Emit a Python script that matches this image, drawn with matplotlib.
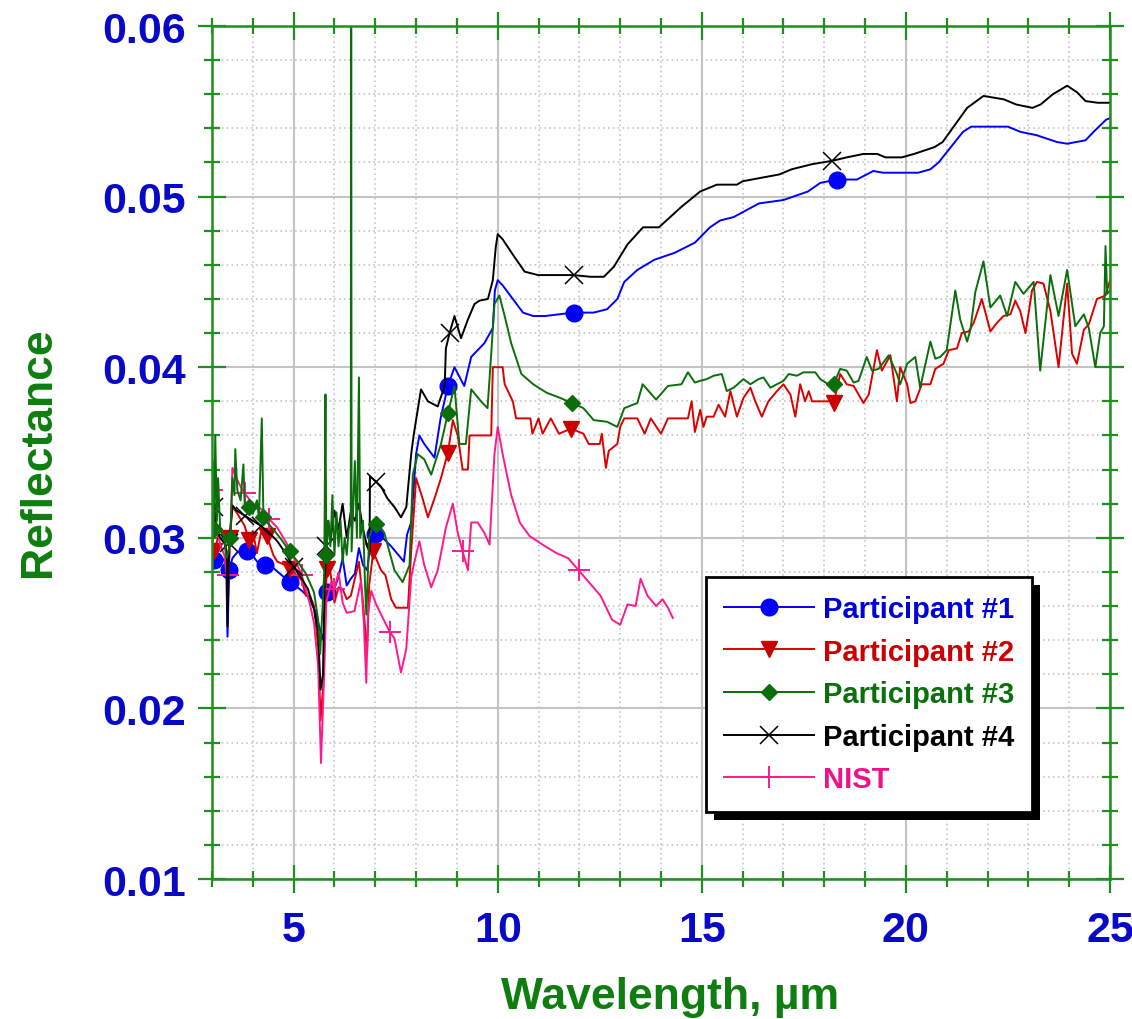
import numpy as np
import matplotlib
matplotlib.use("Agg")
import matplotlib.pyplot as plt
from matplotlib.ticker import MultipleLocator, FormatStrFormatter
from matplotlib.lines import Line2D
from matplotlib.patches import Rectangle
from matplotlib.transforms import IdentityTransform

plt.rcParams['font.family'] = ['Liberation Sans', 'DejaVu Sans']
plt.rcParams['font.weight'] = 'bold'

# Participant #1
p1_wl = [3.0, 3.05, 3.1, 3.2, 3.3, 3.35, 3.38, 3.42, 3.5, 3.6,
         3.73, 3.85, 3.98, 4.14, 4.3, 4.47, 4.71, 4.92, 5.2, 5.37,
         5.53, 5.65, 5.73, 5.77, 5.82, 5.98, 6.1, 6.2, 6.3, 6.4,
         6.5, 6.6, 6.7, 6.8, 6.9, 7.0, 7.14, 7.39, 7.6, 7.7,
         7.78, 7.88, 8.0, 8.08, 8.2, 8.45, 8.6, 8.78, 8.94, 9.18,
         9.35, 9.67, 9.88, 9.93, 10.0, 10.12, 10.37, 10.62, 10.87, 11.16,
         11.5, 11.86, 12.35, 12.68, 12.93, 13.1, 13.42, 13.84, 14.33, 14.83,
         15.2, 15.45, 15.78, 16.4, 17.0, 17.6, 17.9, 18.3, 18.8, 19.2,
         19.45, 20.3, 20.6, 20.8, 21.1, 21.4, 21.6, 22.5, 22.8, 23.2,
         23.7, 23.95, 24.4, 24.6, 24.9, 25.0]
p1_r = [0.0290, 0.0287, 0.0288, 0.0289, 0.0287, 0.0282, 0.0242, 0.0281, 0.0288, 0.0291,
        0.0293, 0.0292, 0.0290, 0.0285, 0.0284, 0.0283, 0.0278, 0.0274, 0.0269, 0.0265,
        0.0257, 0.0246, 0.0240, 0.0262, 0.0268, 0.0269, 0.0277, 0.0288, 0.0272, 0.0276,
        0.0279, 0.0294, 0.0284, 0.0281, 0.0299, 0.0302, 0.0301, 0.0295, 0.0289, 0.0286,
        0.0302, 0.0309, 0.0349, 0.0360, 0.0355, 0.0347, 0.0370, 0.0389, 0.0400, 0.0389,
        0.0406, 0.0414, 0.0423, 0.0445, 0.0451, 0.0448, 0.0440, 0.0432, 0.0430, 0.0430,
        0.0431, 0.0432, 0.0432, 0.0434, 0.0440, 0.0450, 0.0457, 0.0463, 0.0467, 0.0473,
        0.0482, 0.0486, 0.0488, 0.0496, 0.0498, 0.0503, 0.0508, 0.0510, 0.0510, 0.0515,
        0.0514, 0.0514, 0.0516, 0.0520, 0.0529, 0.0538, 0.0541, 0.0541, 0.0538, 0.0536,
        0.0532, 0.0531, 0.0533, 0.0538, 0.0545, 0.0546]

# Participant #2
p2_wl = [3.0, 3.05, 3.1, 3.2, 3.3, 3.36, 3.38, 3.44, 3.5, 3.6,
         3.7, 3.8, 3.9, 4.0, 4.1, 4.2, 4.35, 4.5, 4.6, 4.8,
         4.9, 5.0, 5.2, 5.3, 5.4, 5.5, 5.6, 5.66, 5.72, 5.77,
         5.82, 5.9, 6.0, 6.1, 6.2, 6.3, 6.4, 6.5, 6.6, 6.7,
         6.8, 6.85, 6.95, 7.14, 7.25, 7.39, 7.51, 7.8, 7.88, 8.0,
         8.16, 8.29, 8.45, 8.61, 8.78, 8.9, 9.02, 9.14, 9.27, 9.31,
         9.84, 9.88, 10.0, 10.12, 10.17, 10.37, 10.45, 10.8, 10.85, 11.0,
         11.1, 11.3, 11.5, 11.8, 12.1, 12.23, 12.5, 12.55, 12.65, 12.72,
         12.93, 13.0, 13.1, 13.42, 13.6, 13.75, 14.0, 14.17, 14.66, 14.75,
         14.83, 14.96, 15.04, 15.12, 15.29, 15.41, 15.57, 15.7, 15.86, 16.02,
         16.19, 16.31, 16.47, 16.63, 16.84, 17.0, 17.17, 17.29, 17.41, 17.53,
         17.62, 17.7, 18.15, 18.23, 18.39, 18.55, 18.72, 18.96, 19.09, 19.29,
         19.41, 19.62, 19.78, 19.86, 20.03, 20.11, 20.23, 20.39, 20.6, 20.72,
         20.92, 21.05, 21.25, 21.37, 21.54, 21.66, 21.86, 22.07, 22.23, 22.39,
         22.56, 22.68, 22.8, 22.93, 23.09, 23.21, 23.37, 23.54, 23.74, 23.95,
         24.07, 24.19, 24.36, 24.48, 24.68, 24.89, 25.0]
p2_r = [0.0300, 0.0292, 0.0296, 0.0305, 0.0300, 0.0288, 0.0262, 0.0300, 0.0318, 0.0315,
        0.0311, 0.0307, 0.0299, 0.0304, 0.0291, 0.0303, 0.0301, 0.0290, 0.0286, 0.0284,
        0.0282, 0.0280, 0.0275, 0.0266, 0.0266, 0.0260, 0.0236, 0.0193, 0.0212, 0.0262,
        0.0282, 0.0280, 0.0262, 0.0271, 0.0270, 0.0264, 0.0266, 0.0276, 0.0286, 0.0262,
        0.0232, 0.0272, 0.0292, 0.0281, 0.0278, 0.0264, 0.0259, 0.0259, 0.0292, 0.0335,
        0.0323, 0.0312, 0.0323, 0.0335, 0.0350, 0.0369, 0.0360, 0.0340, 0.0340, 0.0360,
        0.0360, 0.0400, 0.0400, 0.0400, 0.0390, 0.0380, 0.0370, 0.0370, 0.0361, 0.0370,
        0.0361, 0.0370, 0.0361, 0.0364, 0.0361, 0.0355, 0.0355, 0.0361, 0.0341, 0.0351,
        0.0355, 0.0365, 0.0370, 0.0370, 0.0361, 0.0370, 0.0361, 0.0370, 0.0370, 0.0380,
        0.0362, 0.0375, 0.0365, 0.0371, 0.0371, 0.0378, 0.0371, 0.0386, 0.0371, 0.0382,
        0.0388, 0.0380, 0.0371, 0.0380, 0.0386, 0.0390, 0.0384, 0.0371, 0.0390, 0.0380,
        0.0386, 0.0380, 0.0380, 0.0379, 0.0396, 0.0390, 0.0389, 0.0379, 0.0384, 0.0410,
        0.0398, 0.0407, 0.0380, 0.0400, 0.0390, 0.0379, 0.0380, 0.0390, 0.0390, 0.0399,
        0.0402, 0.0410, 0.0411, 0.0420, 0.0421, 0.0426, 0.0440, 0.0421, 0.0426, 0.0430,
        0.0431, 0.0439, 0.0433, 0.0420, 0.0445, 0.0450, 0.0449, 0.0433, 0.0400, 0.0449,
        0.0408, 0.0402, 0.0422, 0.0425, 0.0440, 0.0442, 0.0451]

# Participant #3
p3_wl = [3.0, 3.02, 3.05, 3.08, 3.12, 3.15, 3.2, 3.3, 3.35, 3.4,
         3.45, 3.5, 3.55, 3.57, 3.62, 3.7, 3.77, 3.8, 3.9, 4.0,
         4.1, 4.15, 4.22, 4.26, 4.35, 4.5, 4.7, 4.9, 5.1, 5.3,
         5.5, 5.6, 5.65, 5.7, 5.75, 5.78, 5.8, 5.85, 5.9, 5.95,
         6.0, 6.05, 6.1, 6.15, 6.2, 6.25, 6.3, 6.35, 6.4, 6.41,
         6.42, 6.5, 6.55, 6.6, 6.63, 6.7, 6.75, 6.78, 6.85, 6.95,
         7.02, 7.22, 7.47, 7.67, 7.84, 7.92, 8.04, 8.2, 8.37, 8.61,
         8.78, 8.94, 9.06, 9.22, 9.35, 9.59, 9.75, 9.83, 9.92, 10.04,
         10.17, 10.33, 10.58, 10.87, 11.2, 11.53, 11.82, 12.1, 12.35, 12.68,
         12.93, 13.1, 13.42, 13.55, 13.88, 14.17, 14.5, 14.66, 14.83, 14.96,
         15.12, 15.29, 15.49, 15.61, 15.78, 16.02, 16.19, 16.39, 16.51, 16.68,
         16.84, 17.0, 17.13, 17.33, 17.49, 17.78, 17.9, 18.1, 18.23, 18.39,
         18.55, 18.72, 18.84, 19.04, 19.17, 19.33, 19.58, 19.78, 19.86, 20.03,
         20.23, 20.35, 20.6, 20.72, 20.84, 21.0, 21.21, 21.33, 21.5, 21.58,
         21.7, 21.9, 22.07, 22.31, 22.48, 22.68, 22.88, 23.13, 23.29, 23.54,
         23.74, 23.95, 24.15, 24.36, 24.48, 24.64, 24.76, 24.85, 24.89, 24.93,
         25.0]
p3_r = [0.0280, 0.0345, 0.0305, 0.0360, 0.0310, 0.0335, 0.0305, 0.0300, 0.0288, 0.0291,
        0.0300, 0.0335, 0.0325, 0.0352, 0.0328, 0.0322, 0.0343, 0.0320, 0.0318, 0.0314,
        0.0322, 0.0312, 0.0370, 0.0312, 0.0309, 0.0305, 0.0299, 0.0292, 0.0286, 0.0279,
        0.0268, 0.0252, 0.0232, 0.0255, 0.0280, 0.0384, 0.0290, 0.0310, 0.0295, 0.0325,
        0.0290, 0.0315, 0.0295, 0.0310, 0.0285, 0.0300, 0.0290, 0.0305, 0.0310, 0.0650,
        0.0292, 0.0345, 0.0300, 0.0394, 0.0300, 0.0310, 0.0272, 0.0255, 0.0300, 0.0308,
        0.0308, 0.0303, 0.0281, 0.0274, 0.0284, 0.0337, 0.0349, 0.0346, 0.0337, 0.0355,
        0.0373, 0.0389, 0.0355, 0.0355, 0.0387, 0.0380, 0.0376, 0.0404, 0.0437, 0.0442,
        0.0430, 0.0414, 0.0396, 0.0390, 0.0385, 0.0382, 0.0379, 0.0376, 0.0369, 0.0368,
        0.0365, 0.0376, 0.0379, 0.0390, 0.0381, 0.0389, 0.0390, 0.0397, 0.0391, 0.0392,
        0.0393, 0.0395, 0.0396, 0.0386, 0.0388, 0.0393, 0.0390, 0.0393, 0.0394, 0.0388,
        0.0390, 0.0392, 0.0396, 0.0395, 0.0397, 0.0397, 0.0393, 0.0390, 0.0390, 0.0399,
        0.0398, 0.0391, 0.0392, 0.0406, 0.0398, 0.0399, 0.0407, 0.0396, 0.0390, 0.0402,
        0.0406, 0.0388, 0.0415, 0.0405, 0.0406, 0.0410, 0.0445, 0.0428, 0.0415, 0.0422,
        0.0444, 0.0462, 0.0435, 0.0442, 0.0430, 0.0450, 0.0443, 0.0450, 0.0398, 0.0454,
        0.0430, 0.0457, 0.0424, 0.0431, 0.0423, 0.0400, 0.0420, 0.0424, 0.0471, 0.0443,
        0.0445]

# Participant #4
p4_wl = [3.0, 3.05, 3.1, 3.2, 3.3, 3.36, 3.38, 3.42, 3.5, 3.6,
         3.8, 4.0, 4.2, 4.4, 4.6, 4.8, 5.0, 5.2, 5.35, 5.5,
         5.6, 5.66, 5.72, 5.76, 5.8, 5.85, 5.9, 6.0, 6.1, 6.2,
         6.3, 6.4, 6.5, 6.6, 6.7, 6.8, 6.86, 6.87, 7.02, 7.14,
         7.3, 7.47, 7.63, 7.76, 7.88, 7.94, 8.12, 8.29, 8.53, 8.7,
         8.73, 8.82, 8.94, 9.1, 9.27, 9.43, 9.55, 9.76, 9.88, 9.95,
         10.0, 10.12, 10.37, 10.66, 10.99, 11.6, 11.86, 12.27, 12.6, 12.85,
         13.0, 13.18, 13.56, 13.95, 14.5, 14.96, 15.37, 15.86, 16.0, 16.9,
         17.2, 17.7, 18.2, 18.55, 18.96, 19.3, 19.5, 19.9, 20.2, 20.7,
         20.9, 21.2, 21.5, 21.9, 22.15, 22.4, 22.7, 23.1, 23.3, 23.6,
         23.95, 24.2, 24.4, 24.7, 25.0]
p4_r = [0.0310, 0.0318, 0.0305, 0.0300, 0.0297, 0.0292, 0.0248, 0.0297, 0.0319, 0.0316,
        0.0313, 0.0310, 0.0307, 0.0303, 0.0298, 0.0291, 0.0283, 0.0276, 0.0270, 0.0258,
        0.0245, 0.0211, 0.0220, 0.0275, 0.0295, 0.0310, 0.0298, 0.0316, 0.0305, 0.0320,
        0.0300, 0.0315, 0.0310, 0.0320, 0.0305, 0.0295, 0.0292, 0.0336, 0.0333, 0.0330,
        0.0323, 0.0318, 0.0312, 0.0318, 0.0349, 0.0360, 0.0387, 0.0380, 0.0377, 0.0389,
        0.0411, 0.0420, 0.0430, 0.0417, 0.0428, 0.0437, 0.0439, 0.0440, 0.0451, 0.0470,
        0.0478, 0.0475, 0.0466, 0.0456, 0.0454, 0.0454, 0.0454, 0.0453, 0.0453, 0.0459,
        0.0465, 0.0472, 0.0482, 0.0482, 0.0494, 0.0503, 0.0507, 0.0507, 0.0509, 0.0513,
        0.0516, 0.0519, 0.0521, 0.0523, 0.0525, 0.0525, 0.0523, 0.0523, 0.0525, 0.0529,
        0.0532, 0.0542, 0.0552, 0.0559, 0.0558, 0.0557, 0.0554, 0.0552, 0.0554, 0.0560,
        0.0565, 0.0561, 0.0556, 0.0555, 0.0555]

# NIST reference
nist_wl = [3.0, 3.05, 3.1, 3.2, 3.3, 3.35, 3.4, 3.45, 3.5, 3.6,
           3.7, 3.8, 3.9, 4.0, 4.2, 4.4, 4.6, 4.8, 5.0, 5.2,
           5.4, 5.5, 5.6, 5.67, 5.75, 5.8, 5.92, 6.0, 6.1, 6.2,
           6.3, 6.49, 6.65, 6.72, 6.78, 6.82, 6.9, 7.02, 7.35, 7.47,
           7.63, 7.76, 7.88, 7.96, 8.08, 8.2, 8.37, 8.53, 8.73, 8.9,
           9.02, 9.14, 9.27, 9.35, 9.51, 9.67, 9.8, 9.92, 10.0, 10.12,
           10.33, 10.54, 10.78, 11.1, 11.44, 11.73, 11.98, 12.27, 12.52, 12.8,
           13.0, 13.18, 13.38, 13.5, 13.67, 13.88, 14.04, 14.17, 14.29]
nist_r = [0.0328, 0.0320, 0.0310, 0.0296, 0.0290, 0.0280, 0.0278, 0.0300, 0.0341, 0.0335,
          0.0330, 0.0326, 0.0323, 0.0320, 0.0317, 0.0311, 0.0306, 0.0298, 0.0289, 0.0278,
          0.0261, 0.0250, 0.0225, 0.0168, 0.0222, 0.0262, 0.0274, 0.0270, 0.0280, 0.0262,
          0.0256, 0.0257, 0.0275, 0.0250, 0.0215, 0.0255, 0.0269, 0.0261, 0.0245, 0.0241,
          0.0221, 0.0235, 0.0277, 0.0286, 0.0298, 0.0284, 0.0271, 0.0281, 0.0306, 0.0320,
          0.0303, 0.0292, 0.0281, 0.0309, 0.0309, 0.0303, 0.0296, 0.0349, 0.0365, 0.0349,
          0.0325, 0.0309, 0.0301, 0.0296, 0.0291, 0.0288, 0.0281, 0.0273, 0.0266, 0.0252,
          0.0249, 0.0261, 0.0260, 0.0276, 0.0266, 0.0260, 0.0264, 0.0259, 0.0253]

# wavelengths where the symbols sit
mark_wl = [3.05, 3.43, 3.85, 4.3, 4.9, 5.82, 7.0, 8.8, 11.85, 18.25]
nist_mark_wl = [3.0, 3.4, 3.8, 4.4, 5.2, 6.0, 7.35, 9.14, 11.98]

labels = ['Participant #1', 'Participant #2', 'Participant #3', 'Participant #4', 'NIST']
line_colors = ['#0000ff', '#dd0000', '#0b6e0b', '#000000', '#ff1a8c']
text_colors = ['#0000dd', '#cc0000', '#0b700b', '#000000', '#ee1188']

axis_green = '#1f8f1f'
label_green = '#0f7d0f'
tick_blue = '#0808c8'


def mark_idx(wl, marks):
    wl = np.asarray(wl)
    return [int(np.abs(wl - m).argmin()) for m in marks]


fig = plt.figure(figsize=(11.32, 10.20), dpi=100)
ax = fig.add_axes([212 / 1132, 1 - 880 / 1020, 898 / 1132, 853 / 1020])

styles = [
    dict(marker='o', ms=12, mec=line_colors[0], mfc=line_colors[0]),
    dict(marker='v', ms=12, mec='#cc0000', mfc='#cc0000'),
    dict(marker='D', ms=8, mec=line_colors[2], mfc=line_colors[2]),
    dict(marker='x', ms=13, mew=1.1, mec='black'),
    dict(marker='+', ms=16, mew=1.4, mec=line_colors[4]),
]

series = [(p1_wl, p1_r, mark_wl), (p2_wl, p2_r, mark_wl), (nist_wl, nist_r, nist_mark_wl),
          (p4_wl, p4_r, mark_wl), (p3_wl, p3_r, mark_wl)]
order = [0, 1, 4, 3, 2]
for (wl, r, mk), k in zip(series, order):
    ax.plot(wl, r, color=line_colors[k], lw=1.4, markevery=mark_idx(wl, mk),
            zorder=2 + 0.1 * order.index(k), **styles[k])

ax.set_xlim(3, 25)
ax.set_ylim(0.01, 0.06)
ax.xaxis.set_major_locator(MultipleLocator(5))
ax.xaxis.set_minor_locator(MultipleLocator(1))
ax.yaxis.set_major_locator(MultipleLocator(0.01))
ax.yaxis.set_minor_locator(MultipleLocator(0.002))
ax.yaxis.set_major_formatter(FormatStrFormatter('%.2f'))

ax.set_axisbelow(True)
ax.grid(which='major', color='#c4c4c4', lw=1.5, ls='-')
ax.grid(which='minor', color='#bcbcbc', lw=1.1, ls=(0, (1, 2.2)))

for s in ax.spines.values():
    s.set_color(axis_green)
    s.set_linewidth(1.8)

ax.tick_params(which='both', direction='inout', top=True, right=True,
               color=axis_green, width=1.6, labelcolor=tick_blue, labelsize=31)
ax.tick_params(which='major', length=20)
ax.tick_params(which='minor', length=11)
ax.tick_params(axis='x', pad=12)
ax.tick_params(axis='y', pad=9)

ax.set_xlabel('Wavelength, µm', fontsize=32, color=label_green, fontweight='bold')
ax.xaxis.set_label_coords(0.51, -0.114)
ax.set_ylabel('Reflectance', fontsize=32, color=label_green, fontweight='bold')
ax.yaxis.set_label_coords(-0.170, 0.502)

handles = [Line2D([], [], color=line_colors[k], lw=1.4, **styles[k]) for k in range(5)]
leg = ax.legend(handles, labels, loc='upper left', bbox_to_anchor=(0.550, 0.354),
                borderaxespad=0, frameon=True, fancybox=False, edgecolor='black',
                framealpha=1, prop={'size': 21, 'weight': 'bold'}, handlelength=3.1,
                handletextpad=0.3, borderpad=0.62, labelspacing=0.5)
leg.get_frame().set_linewidth(2)
for t, c in zip(leg.get_texts(), text_colors):
    t.set_color(c)

# solid drop shadow under the legend box
fig.canvas.draw()
bb = leg.get_frame().get_window_extent(fig.canvas.get_renderer())
ax.add_artist(Rectangle((bb.x0 + 8, bb.y0 - 8), bb.width, bb.height,
                        transform=IdentityTransform(), facecolor='black',
                        edgecolor='none', zorder=leg.get_zorder() - 0.1))

fig.savefig('out.png', dpi=100)
